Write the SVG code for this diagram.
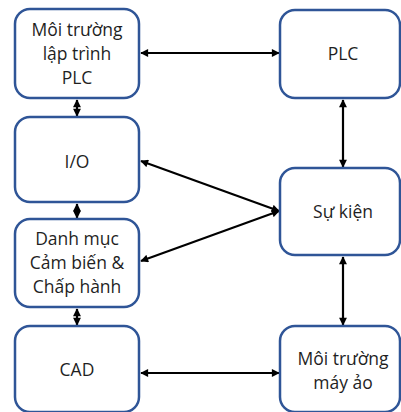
<svg xmlns="http://www.w3.org/2000/svg" width="401" height="412" viewBox="0 0 401 412">
  <style>
    .box { fill: #ffffff; stroke: #2f5597; stroke-width: 2.5; }
    .lbl { font-family: "Open Sans", "Noto Sans", sans-serif; font-size: 17.5px; fill: #1f1f1f; text-anchor: middle; }
    .cn { stroke: #000000; stroke-width: 2.2; fill: none; marker-start: url(#ah); marker-end: url(#ah); }
  </style>
  <defs>
    <marker id="ah" viewBox="0 0 10 10" refX="9" refY="5" markerWidth="4" markerHeight="3.6" orient="auto-start-reverse" markerUnits="strokeWidth">
      <path d="M0,0 L10,5 L0,10 z" fill="#000000"/>
    </marker>
  </defs>
  <rect width="401" height="412" fill="#ffffff"/>

  <g id="connectors">
    <line class="cn" x1="141" y1="53" x2="279" y2="53"/>
    <line class="cn" x1="343" y1="100" x2="343" y2="167"/>
    <line class="cn" x1="343" y1="257" x2="343" y2="325"/>
    <line class="cn" x1="141" y1="161" x2="279" y2="211"/>
    <line class="cn" x1="141" y1="261" x2="279" y2="211"/>
    <line class="cn" x1="141" y1="373" x2="279" y2="373"/>
    <line class="cn" x1="77" y1="100" x2="77" y2="116"/>
    <line class="cn" x1="77" y1="204" x2="77" y2="218"/>
    <line class="cn" x1="77" y1="309" x2="77" y2="325"/>
  </g>

  <g id="env-plc">
    <rect class="box" x="15" y="9" width="124" height="89" rx="15"/>
    <text class="lbl" x="77" y="36">Môi trường</text>
    <text class="lbl" x="77" y="60">lập trình</text>
    <text class="lbl" x="77" y="84">PLC</text>
  </g>
  <g id="io">
    <rect class="box" x="15" y="117" width="124" height="85" rx="15"/>
    <text class="lbl" x="77" y="168">I/O</text>
  </g>
  <g id="catalog">
    <rect class="box" x="15" y="219" width="124" height="88" rx="15"/>
    <text class="lbl" x="77" y="245">Danh mục</text>
    <text class="lbl" x="77" y="269">Cảm biến &amp;</text>
    <text class="lbl" x="77" y="293">Chấp hành</text>
  </g>
  <g id="cad">
    <rect class="box" x="15" y="326" width="124" height="86" rx="15"/>
    <text class="lbl" x="77" y="376">CAD</text>
  </g>
  <g id="plc">
    <rect class="box" x="280" y="10" width="120" height="88" rx="15"/>
    <text class="lbl" x="343" y="60">PLC</text>
  </g>
  <g id="events">
    <rect class="box" x="280" y="168" width="120" height="87" rx="15"/>
    <text class="lbl" x="343" y="218">Sự kiện</text>
  </g>
  <g id="virtual-env">
    <rect class="box" x="280" y="326" width="120" height="86" rx="15"/>
    <text class="lbl" x="343" y="365">Môi trường</text>
    <text class="lbl" x="343" y="389">máy ảo</text>
  </g>
</svg>
